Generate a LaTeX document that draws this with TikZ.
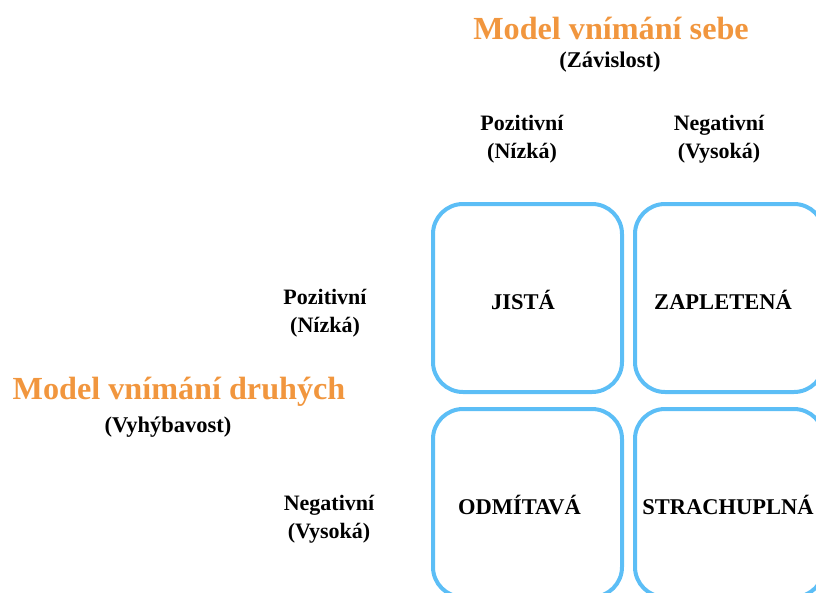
\documentclass[tikz,border=0pt]{standalone}
\usepackage{fontspec}
\setmainfont{Liberation Serif}
\definecolor{boxblue}{RGB}{92,190,246}
\definecolor{titleorange}{RGB}{241,150,62}
\begin{document}
\begin{tikzpicture}[x=1pt,y=-1pt,
  quad/.style={draw=boxblue,line width=4pt,rounded corners=30pt,minimum width=189pt,minimum height=188pt,inner sep=0pt},
  lbl/.style={font=\fontsize{22.5}{26}\selectfont\bfseries,align=center,inner sep=0pt},
  axis/.style={font=\fontsize{22}{28}\selectfont\bfseries,align=center,inner sep=0pt},
  ttl/.style={font=\fontsize{32.2}{36}\selectfont\bfseries,text=titleorange,inner sep=0pt},
  sub/.style={font=\fontsize{22.5}{26}\selectfont\bfseries,inner sep=0pt}]
\useasboundingbox (0,0) rectangle (816,592);
\node[quad] (q11) at (527.5,298) {};
\node[quad] (q12) at (729.5,298) {};
\node[quad] (q21) at (527.5,503) {};
\node[quad] (q22) at (729.5,503) {};
\node[lbl] (l11) at (523,300) {JISTÁ};
\node[lbl] (l12) at (723,300) {ZAPLETENÁ};
\node[lbl] (l21) at (519.5,505) {ODMÍTAVÁ};
\node[lbl] (l22) at (728,505) {STRACHUPLNÁ};
\node[ttl] (tself) at (611,28) {Model vnímání sebe};
\node[sub] (sself) at (610,62) {(Závislost)};
\node[axis] (cpos) at (522,139) {Pozitivní\\(Nízká)};
\node[axis] (cneg) at (719,139) {Negativní\\(Vysoká)};
\node[axis] (rpos) at (325,313) {Pozitivní\\(Nízká)};
\node[axis] (rneg) at (329,519) {Negativní\\(Vysoká)};
\node[ttl] (tother) at (179,392) {Model vnímání druhých};
\node[sub] (sother) at (168,427) {(Vyhýbavost)};
\end{tikzpicture}
\end{document}
